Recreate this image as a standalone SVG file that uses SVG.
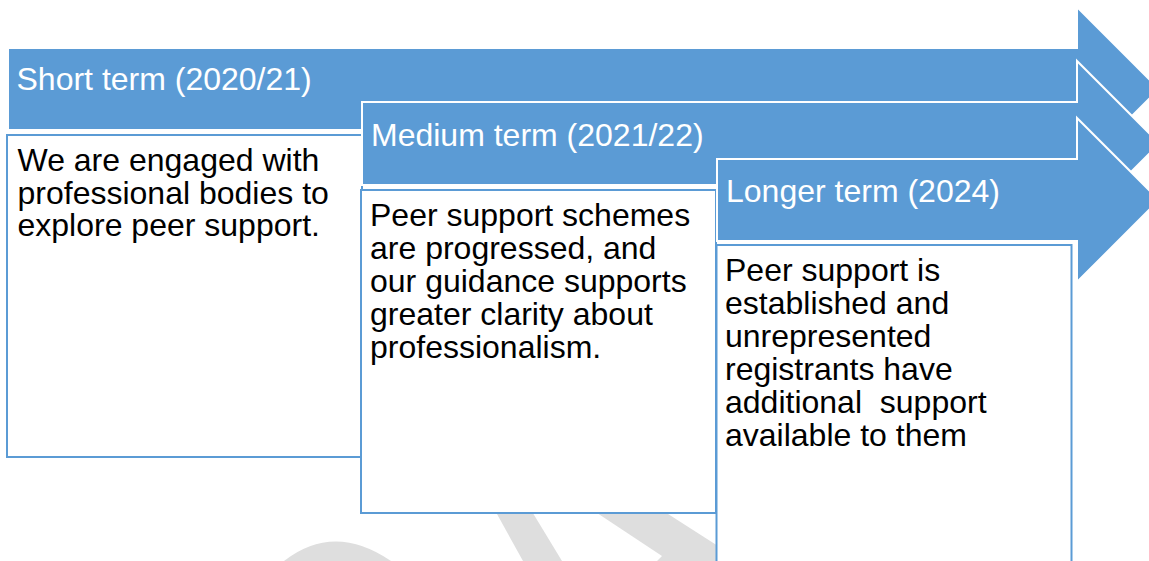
<svg xmlns="http://www.w3.org/2000/svg" width="1149" height="561" viewBox="0 0 1149 561">
<style>
.arrow{fill:#5B9BD5;stroke:#FFFFFF;stroke-width:2}
.box{fill:#FFFFFF;stroke:#5B9BD5;stroke-width:2}
.hdr{font-family:"Liberation Sans",Arial,sans-serif;font-size:32px;fill:#FFFFFF}
.body{font-family:"Liberation Sans",Arial,sans-serif;font-size:32px;fill:#000000}
.wm{fill:#DEDEDE}
</style>
<rect width="1149" height="561" fill="#FFFFFF"/>
<g id="watermark">
<path class="wm" d="M284 561 Q334 522 391 561 Z"/>
<polygon class="wm" points="492,505 528,505 562,561 523,561"/>
<polygon class="wm" points="585,505 654,505 718,546 718,561 657,561 662,556"/>
</g>
<g id="short-term">
<polygon class="arrow" points="8,48 1077,48 1077,7 1159,89 1077,171 1077,130 8,130"/>
<text class="hdr" x="16.5" y="90">Short term (2020/21)</text>
<rect class="box" x="7" y="135" width="355" height="322"/>
<text class="body" x="17.5" y="171">We are engaged with</text>
<text class="body" x="17.5" y="203.5">professional bodies to</text>
<text class="body" x="17.5" y="236">explore peer support.</text>
</g>
<g id="medium-term">
<polygon class="arrow" points="362,102 1077,102 1077,61 1159.5,143.5 1077,226 1077,185 362,185"/>
<text class="hdr" x="371" y="145.7">Medium term (2021/22)</text>
<rect class="box" x="361" y="190" width="355" height="323"/>
<text class="body" x="370" y="226">Peer support schemes</text>
<text class="body" x="370" y="259">are progressed, and</text>
<text class="body" x="370" y="292">our guidance supports</text>
<text class="body" x="370" y="325">greater clarity about</text>
<text class="body" x="370" y="358">professionalism.</text>
</g>
<g id="longer-term">
<polygon class="arrow" points="717,159 1077,159 1077,118 1159,200 1077,282 1077,241 717,241"/>
<text class="hdr" x="726" y="201.7">Longer term (2024)</text>
<rect class="box" x="716.5" y="245" width="355" height="330"/>
<text class="body" x="725" y="281">Peer support is</text>
<text class="body" x="725" y="314">established and</text>
<text class="body" x="725" y="347">unrepresented</text>
<text class="body" x="725" y="380">registrants have</text>
<text class="body" x="725" y="413" xml:space="preserve">additional  support</text>
<text class="body" x="725" y="446">available to them</text>
</g>
<g id="connectors"/>
</svg>
